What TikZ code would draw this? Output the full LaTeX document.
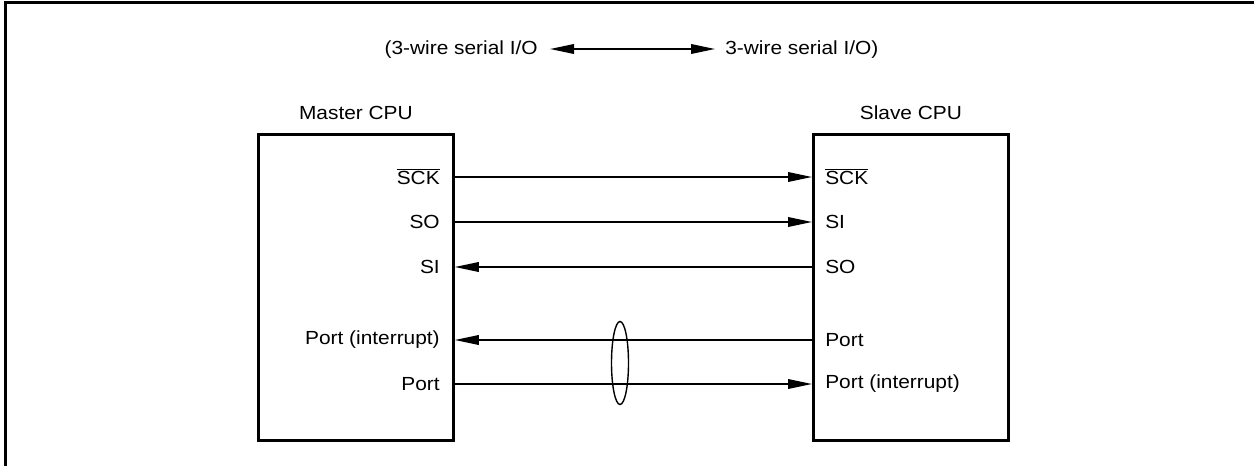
\documentclass[tikz,border=0pt]{standalone}
\usepackage{fontspec}
\setmainfont{Liberation Sans}[FakeStretch=1.1]
\usepackage{tikz}
\usetikzlibrary{calc,positioning,arrows.meta}
\tikzset{
  wire/.style={line width=0.4mm},
  sig/.style={wire, -{Triangle[length=6mm,width=2.4mm]}},
  cpu/.style={draw, line width=0.7mm, minimum width=48.75mm, minimum height=76.5mm, inner sep=0pt},
  lbl/.style={inner sep=0pt, font=\fontsize{13.5}{16}\selectfont},
  pinl/.style={lbl, anchor=east},
  pinr/.style={lbl, anchor=west}
}

\begin{document}
\begin{tikzpicture}[x=0.25mm,y=-0.25mm]
  \useasboundingbox (0,0) rectangle (1254,465);
  \draw[line width=0.6mm] (5.5,480) -- (5.5,2.5) -- (1270,2.5);

  % header
  \node[lbl, anchor=east] (hl) at (538,50) {(3-wire serial I/O};
  \node[lbl, anchor=west] (hr) at (725,50) {3-wire serial I/O)};
  \coordinate (al) at (550,49);
  \coordinate (ar) at (715,49);
  \draw[wire, {Triangle[length=6mm,width=2.4mm]}-{Triangle[length=6mm,width=2.4mm]}] (al) -- (ar);

  % the two CPUs
  \node[cpu, anchor=north west] (master) at (257,133) {};
  \node[cpu, anchor=north west] (slave) at (812,133) {};
  \node[lbl, above=13mm/4 of master.north, anchor=south] (mname) {Master CPU};
  \node[lbl, above=13mm/4 of slave.north, anchor=south] (sname) {Slave CPU};

  % pins
  \node[pinl] (msck) at (440,177) {$\overline{\hbox{SCK}}$};
  \node[pinl] (mso)  at (440,222) {SO};
  \node[pinl] (msi)  at (440,267) {SI};
  \node[pinl] (mpi)  at (440,340) {Port (interrupt)};
  \node[pinl] (mp)   at (440,384) {Port};
  \node[pinr] (ssck) at (825,177) {$\overline{\hbox{SCK}}$};
  \node[pinr] (ssi)  at (825,222) {SI};
  \node[pinr] (sso)  at (825,267) {SO};
  \node[pinr] (sp)   at (825,340) {Port};
  \node[pinr] (spi)  at (825,384) {Port (interrupt)};

  % lines
  \draw[sig] (master.east |- 0,177) -- (slave.west |- 0,177);
  \draw[sig] (master.east |- 0,222) -- (slave.west |- 0,222);
  \draw[sig] (slave.west |- 0,267) -- (master.east |- 0,267);
  \draw[sig] (slave.west |- 0,340) -- (master.east |- 0,340);
  \draw[sig] (master.east |- 0,384) -- (slave.west |- 0,384);

  \draw[line width=0.35mm] (620,363) ellipse [x radius=8.5, y radius=41.5];
\end{tikzpicture}
\end{document}
